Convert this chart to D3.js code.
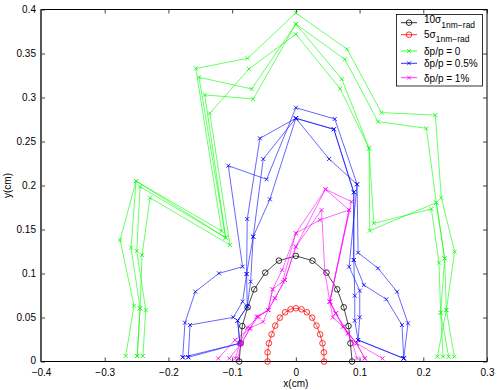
<!DOCTYPE html>
<html>
<head>
<meta charset="utf-8">
<script src="https://cdn.jsdelivr.net/npm/d3@7"></script>
<style>
  body { margin: 0; background: #fff; }
  text { font-family: "Liberation Sans", Arial, Helvetica, sans-serif; }
</style>
</head>
<body>
<script>
const width = 498, height = 390;

// tick values and labels
const xTicks = [-0.4, -0.3, -0.2, -0.1, 0, 0.1, 0.2, 0.3];
const xTickLabels = ["\u22120.4", "\u22120.3", "\u22120.2", "\u22120.1", "0", "0.1", "0.2", "0.3"];
const yTicks = [0, 0.05, 0.1, 0.15, 0.2, 0.25, 0.3, 0.35, 0.4];
const yTickLabels = ["0", "0.05", "0.1", "0.15", "0.2", "0.25", "0.3", "0.35", "0.4"];

// beam size ellipses
const sigma10 = [[-0.0889,0],[-0.0867,0.0207],[-0.0841,0.0403],[-0.0757,0.0616],[-0.0653,0.082],[-0.0481,0.101],[-0.0266,0.1146],[0,0.12],
  [0.0261,0.1146],[0.0481,0.101],[0.0648,0.082],[0.0752,0.0616],[0.0826,0.0403],[0.0857,0.0207],[0.0883,0]];
const sigma5 = [[-0.0444,0],[-0.0444,0.0104],[-0.0423,0.0207],[-0.0381,0.0309],[-0.0324,0.0407],[-0.0251,0.0498],[-0.0168,0.0559],[-0.0083,0.0593],[0,0.0605],
  [0.0089,0.0593],[0.0172,0.0559],[0.0256,0.0498],[0.0324,0.0407],[0.0381,0.0309],[0.0418,0.0207],[0.0439,0.0104],[0.0444,0]];

// dynamic aperture, dp/p = 0 (several seeds)
const dp0 = [
  [[-0.267,0.0063],[-0.254,0.0634],[-0.2759,0.138],[-0.2508,0.205],[-0.1165,0.1483],[-0.157,0.333],[-0.0757,0.3445],[0,0.396],[0.0805,0.3548],[0.1343,0.2828],[0.219,0.28],[0.2283,0.1861],[0.2492,0.1248],[0.2362,0.0585],[0.2487,0.0055]],
  [[-0.249,0.0063],[-0.2445,0.0604],[-0.2586,0.1293],[-0.2508,0.205],[-0.1102,0.1407],[-0.152,0.323],[-0.0694,0.3097],[0,0.3835],[0.0768,0.3434],[0.129,0.2725],[0.2048,0.265],[0.2205,0.1805],[0.2335,0.1172],[0.2273,0.0555],[0.2398,0.0055]],
  [[-0.240,0.0063],[-0.2356,0.0585],[-0.2497,0.1256],[-0.2445,0.1987],[-0.1102,0.1407],[-0.143,0.303],[-0.0669,0.2983],[0,0.3835],[0.0721,0.321],[0.1149,0.2422],[0.1223,0.157],[0.2127,0.1733],[0.2246,0.1123],[0.2273,0.0555],[0.231,0.0055]],
  [[-0.249,0.0063],[-0.2445,0.0604],[-0.2414,0.121],[-0.2288,0.186],[-0.1034,0.1324],[-0.135,0.282],[-0.0737,0.3324],[0,0.372],[0.0695,0.31],[0.1149,0.2422],[0.116,0.1487],[0.2205,0.1805],[0.2335,0.1172],[0.2362,0.0585],[0.2221,0.0055]]
];

// dp/p = 0.5%
const dp05 = [
  [[-0.1776,0.0048],[-0.174,0.0441],[-0.1578,0.0793],[-0.1207,0.1002],[-0.0836,0.1077],[-0.1061,0.2225],[-0.0459,0.207],[0,0.2884],[0.0611,0.2756],[0.0961,0.2014],[0.0977,0.1236],[0.129,0.1059],[0.1588,0.0793],[0.176,0.0434],[0.1693,0.0036]],
  [[-0.1688,0.0048],[-0.1661,0.0415],[-0.0982,0.0502],[-0.0836,0.068],[-0.0773,0.0994],[-0.0763,0.1619],[-0.0564,0.2536],[0,0.2764],[0.0596,0.2639],[0.0909,0.1923],[0.0909,0.1153],[0.1066,0.0869],[0.1421,0.0707],[0.1666,0.0415],[0.1693,0.0036]],
  [[-0.1776,0.0048],[-0.0878,0.0207],[-0.0914,0.0464],[-0.0763,0.0623],[-0.071,0.0907],[-0.0669,0.1418],[-0.0512,0.2301],[0,0.2764],[0.0522,0.2301],[0.0961,0.2014],[0.0836,0.1077],[0.1003,0.0805],[0.1003,0.0502],[0.0977,0.0244],[0.1693,0.0036]],
  [[-0.1688,0.0048],[-0.0878,0.0207],[-0.0914,0.0464],[-0.0763,0.0623],[-0.0773,0.0994],[-0.0669,0.1418],[-0.0408,0.1843],[0,0.2764],[0.0596,0.2639],[0.0909,0.1923],[0.0909,0.1153],[0.0925,0.0748],[0.0925,0.0464],[0.0977,0.0244],[0.1693,0.0036]]
];

// dp/p = 1%
const dp1 = [
  [[-0.1218,0.0035],[-0.0956,0.0244],[-0.0721,0.0377],[-0.0591,0.0509],[-0.0434,0.0585],[-0.0365,0.082],[-0.0215,0.104],[0,0.1457],[0.0465,0.1957],[0.0873,0.1816],[0.0533,0.068],[0.0627,0.0547],[0.0741,0.0396],[0.0951,0.0207],[0.136,0.0035]],
  [[-0.1045,0.0035],[-0.085,0.021],[-0.0721,0.0377],[-0.0616,0.0509],[-0.0434,0.0585],[-0.0329,0.0718],[-0.0172,0.0926],[0,0.1305],[0.0465,0.1957],[0.0835,0.1722],[0.0533,0.068],[0.0627,0.0547],[0.082,0.032],[0.0951,0.0207],[0.1082,0.0035]],
  [[-0.0951,0.0035],[-0.0878,0.0207],[-0.0767,0.0383],[-0.0591,0.0509],[-0.0434,0.0585],[-0.0365,0.082],[-0.0209,0.0907],[0,0.1457],[0.0376,0.1608],[0.0835,0.1722],[0.0533,0.068],[0.058,0.05],[0.0741,0.0396],[0.088,0.023],[0.0961,0.0035]],
  [[-0.0914,0.0035],[-0.085,0.021],[-0.0721,0.0377],[-0.0513,0.0452],[-0.0434,0.0585],[-0.0329,0.0718],[-0.0172,0.0926],[0,0.1305],[0.0403,0.1722],[0.0455,0.102],[0.0533,0.068],[0.0627,0.0547],[0.082,0.032],[0.0951,0.0207],[0.1082,0.0035]]
];

const legendLabels = [["10\u03c3", "1nm\u2212rad"], ["5\u03c3", "1nm\u2212rad"], ["\u03b4p/p = 0", ""], ["\u03b4p/p = 0.5%", ""], ["\u03b4p/p = 1%", ""]];
const colors = ["#000000", "#ff0000", "#00ff00", "#0000ff", "#ff00ff"];

const x = d3.scaleLinear().domain([-0.4, 0.3]).range([41, 487]);
const y = d3.scaleLinear().domain([0, 0.4]).range([361.5, 9.5]);

const svg = d3.select("body")
    .append("svg")
    .attr("width", width)
    .attr("height", height);

svg.append("rect").attr("width", width).attr("height", height).attr("fill", "#fff");

// axes with inward ticks
const fs = 10;
const axBottom = svg.append("g").attr("transform", `translate(0,${y(0)})`)
    .call(d3.axisBottom(x).tickValues(xTicks).tickFormat((d, i) => xTickLabels[i]).tickSizeInner(-4).tickSizeOuter(0).tickPadding(7));
const axLeft = svg.append("g").attr("transform", `translate(${x(-0.4)},0)`)
    .call(d3.axisLeft(y).tickValues(yTicks).tickFormat((d, i) => yTickLabels[i]).tickSizeInner(-4).tickSizeOuter(0).tickPadding(5));
const axTop = svg.append("g").attr("transform", `translate(0,${y(0.4)})`)
    .call(d3.axisTop(x).tickValues(xTicks).tickFormat("").tickSizeInner(-4).tickSizeOuter(0));
const axRight = svg.append("g").attr("transform", `translate(${x(0.3)},0)`)
    .call(d3.axisRight(y).tickValues(yTicks).tickFormat("").tickSizeInner(-4).tickSizeOuter(0));

[axBottom, axLeft, axTop, axRight].forEach(g => {
    g.select(".domain").remove();
    g.selectAll("line").attr("stroke", "#444");
    g.selectAll("text").attr("font-size", fs).attr("fill", "#000")
        .attr("font-family", "'Liberation Sans', Arial, Helvetica, sans-serif");
});
// the bottom "0" of the y axis sits a touch higher in the original
axLeft.selectAll(".tick text").filter(d => d === 0).attr("dy", "0.2em");

// box
svg.append("rect")
    .attr("x", x(-0.4)).attr("y", y(0.4))
    .attr("width", x(0.3) - x(-0.4)).attr("height", y(0) - y(0.4))
    .attr("fill", "none").attr("stroke", "#000").attr("stroke-width", 1);
svg.append("line")
    .attr("x1", x(-0.4)).attr("x2", x(-0.4)).attr("y1", y(0.4)).attr("y2", y(0))
    .attr("stroke", "#555").attr("stroke-width", 2);

const line = d3.line().x(d => x(d[0])).y(d => y(d[1]));
const plot = svg.append("g");

function xMark(g, px, py, s, color) {
    g.append("path")
        .attr("d", `M${px - s},${py - s}L${px + s},${py + s}M${px - s},${py + s}L${px + s},${py - s}`)
        .attr("stroke", color).attr("stroke-width", 0.8).attr("fill", "none");
}

function drawCircles(pts, color) {
    plot.append("path").attr("d", line(pts)).attr("fill", "none").attr("stroke", color).attr("stroke-width", 0.7);
    plot.append("g").selectAll("circle").data(pts).enter().append("circle")
        .attr("cx", d => x(d[0])).attr("cy", d => y(d[1])).attr("r", 2.8)
        .attr("fill", "none").attr("stroke", color).attr("stroke-width", 0.8);
}

function drawSeeds(set, color) {
    set.forEach(pts => {
        plot.append("path").attr("d", line(pts)).attr("fill", "none")
            .attr("stroke", color).attr("stroke-width", 0.7).attr("stroke-opacity", 0.85);
        pts.forEach(d => xMark(plot, x(d[0]), y(d[1]), 2, color));
    });
}

drawCircles(sigma10, colors[0]);
drawCircles(sigma5, colors[1]);
drawSeeds(dp0, colors[2]);
drawSeeds(dp05, colors[3]);
drawSeeds(dp1, colors[4]);

// axis labels
svg.append("text").attr("x", x(0)).attr("y", 387).attr("text-anchor", "middle")
    .attr("font-size", fs).text("x(cm)");
svg.append("text").attr("transform", `translate(11,${y(0.2)}) rotate(-90)`).attr("text-anchor", "middle")
    .attr("font-size", fs).text("y(cm)");

// legend
const lg = svg.append("g");
lg.append("rect").attr("x", 396.5).attr("y", 14.5).attr("width", 86).attr("height", 71.5)
    .attr("fill", "#fff").attr("stroke", "#000").attr("stroke-width", 0.8);
const rowY = [22.7, 34.7, 51, 63.3, 77.7];
const textY = [23, 37.5, 55, 67.3, 81.5];
legendLabels.forEach((lab, i) => {
    lg.append("line").attr("x1", 401).attr("x2", 417).attr("y1", rowY[i]).attr("y2", rowY[i])
        .attr("stroke", colors[i]).attr("stroke-width", 0.8);
    if (i < 2) {
        lg.append("circle").attr("cx", 409).attr("cy", rowY[i]).attr("r", 2.8)
            .attr("fill", "none").attr("stroke", colors[i]).attr("stroke-width", 0.8);
    } else {
        xMark(lg, 409, rowY[i], 2, colors[i]);
    }
    const t = lg.append("text").attr("x", 424).attr("y", textY[i]).attr("font-size", fs);
    t.append("tspan").text(lab[0]);
    if (lab[1]) t.append("tspan").attr("dy", 4.5).attr("font-size", 8.5).text(lab[1]);
});
</script>
</body>
</html>
